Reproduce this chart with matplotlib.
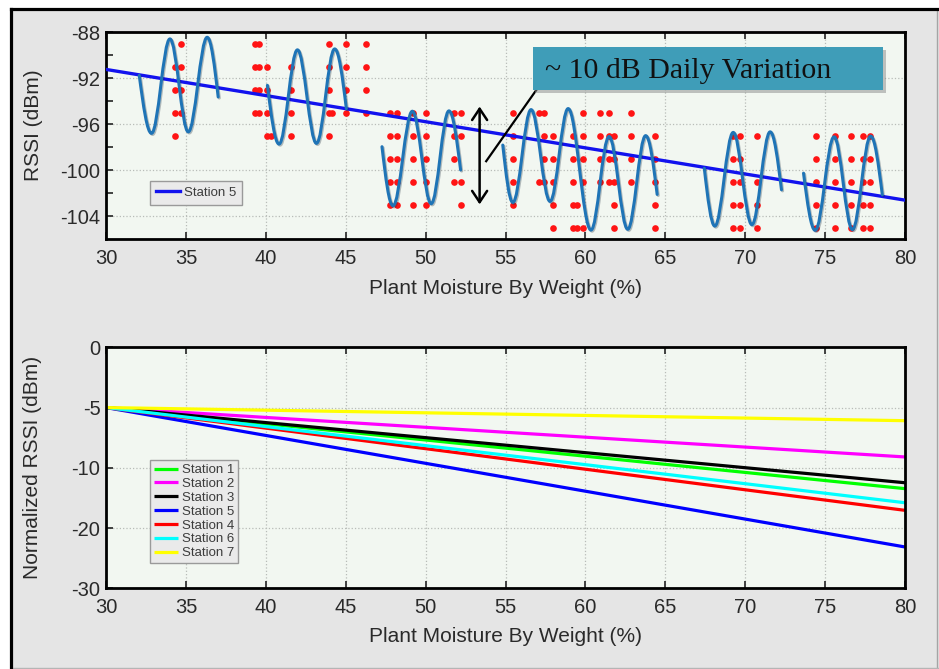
import matplotlib
matplotlib.use("Agg")
import numpy as np
import matplotlib.pyplot as plt
import matplotlib.patheffects as pe
from matplotlib.path import Path
from matplotlib.patches import PathPatch, Rectangle
from matplotlib.lines import Line2D

plt.rcParams["font.family"] = ["Liberation Sans", "DejaVu Sans"]
plt.rcParams["axes.unicode_minus"] = False

# ---------------- data ----------------
moisture_ticks = [30, 35, 40, 45, 50, 55, 60, 65, 70, 75, 80]
rssi_ticks = [-104, -100, -96, -92, -88]
rssi_minor_ticks = [-102, -98, -94, -90]

# Station 5 regression fit (top panel)
fit_x = [30, 80]
fit_y = [-91.25, -102.6]

# Daily RSSI swings: start point, turning points, end point of each run
wave_a_x = [32.08, 32.85, 34.00, 35.15, 36.33, 37.02]
wave_a_y = [-91.77, -96.80, -88.60, -96.67, -88.46, -93.64]
wave_b_x = [40.10, 40.83, 41.98, 43.17, 44.31, 45.04]
wave_b_y = [-92.63, -97.73, -89.55, -97.67, -89.47, -94.65]
wave_c_x = [47.27, 47.96, 49.17, 50.35, 51.46, 52.19]
wave_c_y = [-97.96, -103.09, -94.88, -102.91, -94.85, -99.98]
wave_d_x = [54.83, 55.46, 56.60, 57.79, 58.92, 60.35, 61.48, 62.65, 63.77, 64.49]
wave_d_y = [-97.82, -102.80, -94.74, -102.71, -94.65, -105.20, -97.08, -105.13, -97.00, -102.10]
wave_e_x = [67.44, 68.10, 69.25, 70.42, 71.56, 72.27]
wave_e_y = [-99.83, -104.85, -96.72, -104.73, -96.67, -101.70]
wave_f_x = [73.65, 74.38, 75.56, 76.71, 77.85, 78.58]
wave_f_y = [-100.26, -105.22, -97.10, -105.16, -97.04, -102.14]

# Raw RSSI samples: moisture value of each column and the readings in it
sample_x = [34.3, 34.7,
            39.35, 39.55, 40.05, 40.3, 41.6, 43.95, 44.15, 45.0, 46.25,
            47.75, 48.2, 49.2, 50.0, 51.8, 52.2,
            55.5, 57.1, 57.4, 57.95, 59.2, 59.45, 59.85, 60.9, 61.5, 61.8, 62.85, 64.35,
            69.25, 69.7, 70.75,
            74.4, 75.6, 76.6, 77.35, 77.8]
sample_rssi = [[-91, -93, -95, -97], [-89, -91, -93, -95],
               [-89, -91, -93, -95], [-89, -91, -93, -95], [-91, -93, -95, -97], [-97],
               [-91, -93, -95, -97], [-89, -91, -93, -95, -97], [-95],
               [-89, -91, -93, -95], [-89, -91, -93, -95],
               [-95, -97, -99, -101, -103], [-95, -97, -99, -101, -103],
               [-95, -97, -99, -101, -103], [-95, -97, -99, -101, -103],
               [-95, -97, -99, -101], [-95, -97, -101, -103],
               [-95, -97, -99, -101, -103], [-95, -101], [-95, -97, -99, -101],
               [-97, -99, -101, -103, -105], [-97, -99, -101, -103, -105], [-103, -105],
               [-95, -97, -99, -101, -105], [-95, -97, -99, -101], [-95, -97, -99, -101],
               [-97, -99, -101, -103, -105], [-95, -97, -99, -101],
               [-97, -99, -101, -103, -105],
               [-97, -99, -101, -103, -105], [-97, -99, -101, -103, -105],
               [-97, -101, -103, -105],
               [-97, -99, -101, -103, -105], [-97, -99, -101, -103, -105],
               [-97, -99, -101, -103, -105], [-97, -99, -101, -103, -105],
               [-97, -99, -101, -103, -105]]

# Annotation geometry (data units)
swing_arrow_x = 53.38
swing_arrow_y = [-94.47, -102.97]
leader_x = [57.44, 53.79]
leader_y = [-92.03, -99.22]

# Bottom panel: normalized trend lines (panel units), start and end values
norm_x = [30, 80]
station_names = ["Station 1", "Station 2", "Station 3", "Station 5",
                 "Station 4", "Station 6", "Station 7"]
station_start = [-5.0, -5.0, -5.0, -5.0, -5.0, -5.0, -5.0]
station_end = [-11.73, -9.10, -11.24, -16.57, -13.53, -12.90, -6.09]
station_colors = ["#00ff00", "#ff00ff", "#000000", "#0000ff",
                  "#ff0000", "#00ffff", "#ffff00"]
norm_tick_pos = [0, -5, -10, -15, -20]
norm_tick_labels = ["0", "-5", "-10", "-20", "-30"]

# ---------------- helpers ----------------
K_TURN = 1 - 2 / np.pi


def swing_path(xs, ys):
    """Smooth cubic path through start, turning points and end."""
    verts = [(xs[0], ys[0])]
    codes = [Path.MOVETO]
    n = len(xs)
    for i in range(n - 1):
        x0, y0, x1, y1 = xs[i], ys[i], xs[i + 1], ys[i + 1]
        dx, dy = x1 - x0, y1 - y0
        if i > 0:
            c1 = (x0 + K_TURN * dx, y0)
        else:
            c1 = (x0 + dx / 3, y0 + dy * np.pi / 6)
        if i + 1 < n - 1:
            c2 = (x1 - K_TURN * dx, y1)
        else:
            c2 = (x1 - dx / 3, y1 - dy * np.pi / 6)
        verts += [c1, c2, (x1, y1)]
        codes += [Path.CURVE4] * 3
    return Path(verts, codes)


TEXT_COLOR = "#2a2a2a"
AX_FACE = "#f2f7f1"
GRID_KW = dict(ls=":", color="#b8bcb8", lw=0.9)


def style_axes(ax):
    ax.set_facecolor(AX_FACE)
    for s in ax.spines.values():
        s.set_linewidth(2.0)
        s.set_color("black")
    ax.tick_params(axis="both", which="both", direction="in", length=5,
                   width=1.3, color="#333333", labelsize=14.5,
                   labelcolor=TEXT_COLOR)
    ax.tick_params(axis="x", which="both", top=True, pad=7)
    ax.tick_params(axis="y", which="both", pad=4)
    ax.set_xlim(30, 80)
    ax.set_xticks(moisture_ticks)
    ax.grid(True, which="major", **GRID_KW)
    ax.set_axisbelow(True)
    ax.set_xlabel("Plant Moisture By Weight (%)", fontsize=15, color=TEXT_COLOR)


def style_legend(leg):
    fr = leg.get_frame()
    fr.set_facecolor("#eaeaea")
    fr.set_edgecolor("#9a9a9a")
    fr.set_linewidth(1.0)
    fr.set_alpha(1)
    for t in leg.get_texts():
        t.set_color("#3c3c3c")


# ---------------- figure ----------------
W, H = 939, 669
fig = plt.figure(figsize=(W / 100, H / 100), dpi=100)
fig.patch.set_facecolor("white")

bx, by = 11 / W, 1 - 9 / H
fig.patches.append(Rectangle((bx, 0), 1 - bx, by, transform=fig.transFigure,
                             facecolor="#e5e5e5", edgecolor="none", zorder=-5))
fig.add_artist(Line2D([936.5 / W] * 2, [0, by], transform=fig.transFigure,
                      color="#a5a5a5", lw=1.0, zorder=-4))
fig.add_artist(Line2D([bx, 1], [1.2 / H] * 2, transform=fig.transFigure,
                      color="#b5b5b5", lw=1.0, zorder=-4))
fig.add_artist(Line2D([bx, bx], [0, by], transform=fig.transFigure,
                      color="black", lw=2.3, solid_capstyle="projecting", zorder=-3))
fig.add_artist(Line2D([bx, 1], [by, by], transform=fig.transFigure,
                      color="black", lw=2.3, solid_capstyle="projecting", zorder=-3))

ax1 = fig.add_axes([106 / W, 1 - 239.3 / H, 799 / W, 207.3 / H])
ax2 = fig.add_axes([106 / W, 1 - 588.3 / H, 799 / W, 241 / H])

# ---- top panel ----
style_axes(ax1)
ax1.set_ylim(-106, -88)
ax1.set_yticks(rssi_ticks)
ax1.set_yticks(rssi_minor_ticks, minor=True)
ax1.set_ylabel("RSSI (dBm)", fontsize=15, color=TEXT_COLOR)
ax1.yaxis.set_label_coords(-0.079, 0.55)
ax1.xaxis.set_label_coords(0.5, -0.19)

for cx, rows in zip(sample_x, sample_rssi):
    ax1.plot([cx] * len(rows), rows, ls="none", marker="o", ms=4.8,
             mfc="#ff1414", mec="none", zorder=2)

fit_line, = ax1.plot(fit_x, fit_y, color="#1212ee", lw=2.4, zorder=3,
                     label="Station 5")

shadow = [pe.SimpleLineShadow(offset=(0.8, -0.8), shadow_color="#1a2a3a",
                              alpha=0.3), pe.Normal()]
for wx, wy in [(wave_a_x, wave_a_y), (wave_b_x, wave_b_y), (wave_c_x, wave_c_y),
               (wave_d_x, wave_d_y), (wave_e_x, wave_e_y), (wave_f_x, wave_f_y)]:
    ax1.add_patch(PathPatch(swing_path(wx, wy), fill=False, edgecolor="#1f74b6",
                            lw=2.2, capstyle="round", joinstyle="round",
                            zorder=4, path_effects=shadow))

ax1.annotate("", xy=(swing_arrow_x, swing_arrow_y[1]),
             xytext=(swing_arrow_x, swing_arrow_y[0]),
             arrowprops=dict(arrowstyle="<->,head_length=0.45,head_width=0.3",
                             color="black", lw=1.8, shrinkA=0, shrinkB=0,
                             mutation_scale=18), zorder=5)
ax1.plot(leader_x, leader_y, color="black", lw=1.6, zorder=5)

box = Rectangle((0.534, 0.72), 0.4385, 0.2075, transform=ax1.transAxes,
                facecolor="#3f9db8", edgecolor="none", zorder=6,
                path_effects=[pe.SimplePatchShadow(offset=(2.0, -2.0),
                                                   shadow_rgbFace="#8a8a8a",
                                                   alpha=0.5), pe.Normal()])
ax1.add_patch(box)
ax1.text(0.549, 0.776, "~ 10 dB Daily Variation", transform=ax1.transAxes,
         family=["Liberation Serif", "DejaVu Serif"], fontsize=21.5,
         color="#111111", va="baseline", ha="left", zorder=7)

leg1 = ax1.legend(handles=[fit_line], loc="upper left",
                  bbox_to_anchor=(0.055, 0.282), borderaxespad=0,
                  fontsize=9.5, fancybox=False, handlelength=1.8,
                  handletextpad=0.3, borderpad=0.45)
style_legend(leg1)

# ---- bottom panel ----
style_axes(ax2)
ax2.set_ylim(-20, 0)
ax2.set_yticks(norm_tick_pos)
ax2.set_yticklabels(norm_tick_labels)
ax2.set_ylabel("Normalized RSSI (dBm)", fontsize=15, color=TEXT_COLOR)
ax2.yaxis.set_label_coords(-0.0795, 0.5)
ax2.xaxis.set_label_coords(0.5, -0.16)

for name, y0, y1, col in zip(station_names, station_start, station_end,
                             station_colors):
    ax2.plot(norm_x, [y0, y1], color=col, lw=2.3, label=name,
             solid_capstyle="butt")

leg2 = ax2.legend(loc="upper left", bbox_to_anchor=(0.055, 0.532),
                  borderaxespad=0, fontsize=9.5, fancybox=False,
                  handlelength=1.8, handletextpad=0.3, borderpad=0.3,
                  labelspacing=0.12)
style_legend(leg2)

fig.savefig("out.png", dpi=100)
